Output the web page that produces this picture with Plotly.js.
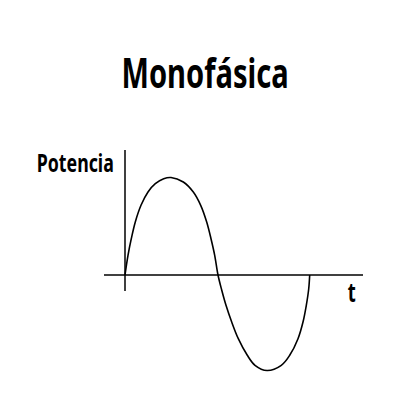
<!DOCTYPE html>
<html>
<head>
<meta charset="utf-8">
<script src="https://cdn.plot.ly/plotly-3.0.1.min.js"></script>
<style>
  html, body { margin: 0; padding: 0; background: #fff; }
  #myDiv { width: 416px; height: 411px; }
  /* the lettering of the original is a narrow face: squeeze the text */
  #myDiv text.gtitle,
  #myDiv text.annotation-text {
    transform-box: fill-box;
    transform-origin: center;
    transform: scaleX(0.71);
  }
</style>
</head>
<body>
<div id="myDiv"></div>
<script>
// one period of the wave (t and power in drawing units)
var tiempo = [0, 3, 6.3, 10.3, 16, 23, 30.3, 38.7, 46, 58.3, 68.3, 75.7, 81.7, 86, 89.7, 93,
              96.7, 101, 106.7, 113.3, 122.3, 130, 142, 156.3, 164.7, 173, 178, 181.3, 183.7, 184.7];
var potencia = [0, 19.7, 36.3, 53, 69.7, 83, 91.3, 96.3, 97.5, 93, 83, 69.7, 53, 36.3, 19.7, 0,
                -15, -30.3, -47, -63.7, -80.3, -90.3, -95.5, -90.3, -80.3, -63.7, -47, -30.3, -14, 0];

var font = 'Noto Sans, sans-serif';

var trace1 = {
  x: tiempo,
  y: potencia,
  type: 'scatter',
  mode: 'lines',
  line: { color: '#000', width: 1.6, shape: 'spline', smoothing: 1 },
  hoverinfo: 'skip'
};

var layout = {
  width: 416,
  height: 411,
  margin: { l: 0, r: 0, t: 0, b: 0 },
  paper_bgcolor: '#fff',
  plot_bgcolor: '#fff',
  showlegend: false,
  title: {
    text: '<b>Monofásica</b>',
    font: { family: font, size: 41, color: '#000' },
    xref: 'paper',
    yref: 'paper',
    x: 0.493,
    y: 0.82,
    xanchor: 'center',
    yanchor: 'middle'
  },
  xaxis: { range: [-125, 291], visible: false, fixedrange: true },
  yaxis: { range: [-136, 275], visible: false, fixedrange: true },
  shapes: [
    // power axis
    { type: 'line', xref: 'x', yref: 'y', x0: 0, x1: 0, y0: 125, y1: -16,
      line: { color: '#000', width: 1.5 } },
    // time axis
    { type: 'line', xref: 'x', yref: 'y', x0: -21, x1: 238, y0: 0, y1: 0,
      line: { color: '#000', width: 1.5 } }
  ],
  annotations: [
    {
      text: '<b>Potencia</b>',
      xref: 'paper', yref: 'paper',
      x: 0.181, y: 0.606,
      xanchor: 'center', yanchor: 'middle',
      showarrow: false,
      font: { family: font, size: 25, color: '#000' }
    },
    {
      text: '<b>t</b>',
      xref: 'paper', yref: 'paper',
      x: 0.844, y: 0.29,
      xanchor: 'center', yanchor: 'middle',
      showarrow: false,
      font: { family: font, size: 26, color: '#000' }
    }
  ]
};

Plotly.newPlot('myDiv', [trace1], layout, { displayModeBar: false, staticPlot: true });
</script>
</body>
</html>
